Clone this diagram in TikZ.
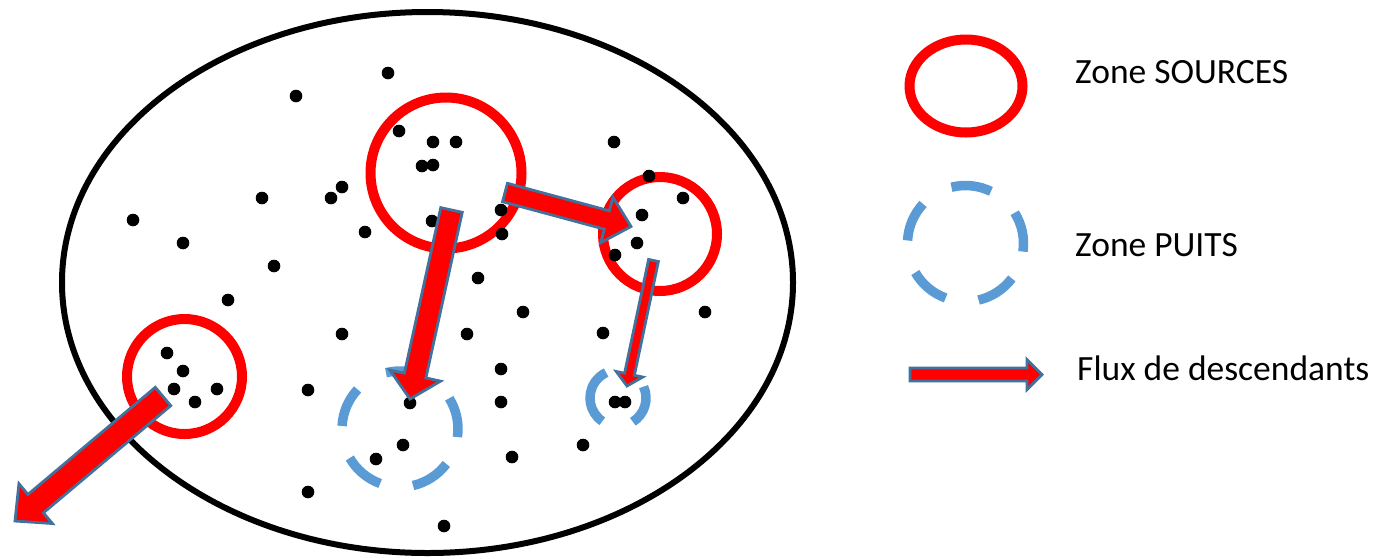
\documentclass[tikz,border=0pt]{standalone}
\usepackage{fontspec}
\setmainfont{Carlito}
\usetikzlibrary{calc}
\definecolor{zred}{HTML}{FF0000}
\definecolor{zblue}{HTML}{5B9BD5}
\definecolor{zout}{HTML}{41719C}
\tikzset{
  srczone/.style={draw=zred,line width=10pt},
  sinkzone/.style={draw=zblue,line width=9.5pt},
  flux/.style={fill=zred,draw=zout,line width=2.8pt,line join=miter},
  dot/.style={fill=black},
  legendtext/.style={anchor=base west,inner sep=0pt,font=\fontsize{35.5}{42}\selectfont}
}
\newcommand{\blockarrow}[5]{%
  \path ($(#2)!#5!(#1)$) coordinate (h);
  \draw[flux] ($(#1)!#3!90:(#2)$) -- ($(h)!#3!90:(#2)$) -- ($(h)!#4!90:(#2)$) -- (#2)
     -- ($(h)!#4!-90:(#2)$) -- ($(h)!#3!-90:(#2)$) -- ($(#1)!#3!-90:(#2)$) -- cycle;
}
\begin{document}
\begin{tikzpicture}[x=1pt,y=-1pt]
\useasboundingbox (0,0) rectangle (1380,558);
% population boundary
\coordinate (pop) at (427.5,282.5);
\draw[line width=6pt] (pop) ellipse [x radius=365.5, y radius=270.5];
% source zones
\coordinate (s1) at (446,173);
\coordinate (s2) at (660,234);
\coordinate (s3) at (184.5,376.5);
\draw[srczone] (s1) circle [radius=75.5];
\draw[srczone] (s2) circle [radius=57];
\draw[srczone] (s3) circle [radius=57.5];
% sink zones
\coordinate (p1) at (400,429);
\coordinate (p2) at (618,398);
\foreach \a in {-32,-104,-177,-250,-323}{
  \draw[sinkzone] (p1) ++(\a:58) arc [start angle=\a, end angle=\a+40, radius=58];
}
\draw[sinkzone] (p2) ++(-236:28) arc [start angle=-236, end angle=-115, radius=28];
\draw[sinkzone] (p2) ++(-24:28) arc [start angle=-24, end angle=58, radius=28];
% individuals
\foreach \x/\y [count=\i] in {388/73,296/96,399/131,433/142,456/142,422/166,433/165,614/142,
  342/187,331/198,262/198,133/220,432/221,365/232,501/210,502/234,183/243,274/266,478/278,
  228/300,523/312,342/334,467/334,603/333,705/312,308/390,501/369,501/402,410/403,403/445,
  376/459,512/457,583/445,308/492,444/526,167/353,183/371,174/389,195/402,217/389,649/176,
  683/198,642/215,637/243,615/255,615/402,625/402}{
  \node[dot,circle,inner sep=0pt,minimum size=12.6pt] (d\i) at (\x,\y) {};
}
% flux arrows
\coordinate (a1s) at (163,396.5);  \coordinate (a1e) at (15,521);
\coordinate (a2s) at (451.5,210);  \coordinate (a2e) at (410,399);
\coordinate (a3s) at (505,192.5);  \coordinate (a3e) at (631,226.5);
\coordinate (a4s) at (653.5,260.5); \coordinate (a4e) at (627,386);
\blockarrow{a1s}{a1e}{12pt}{26pt}{27pt}
\blockarrow{a2s}{a2e}{11pt}{26pt}{24pt}
\blockarrow{a3s}{a3e}{9.5pt}{23.5pt}{25pt}
\blockarrow{a4s}{a4e}{5pt}{13.5pt}{12pt}
% legend
\coordinate (ls) at (966,86);
\draw[srczone] (ls) ellipse [x radius=56.5, y radius=46.5];
\coordinate (lp) at (965.5,243.5);
\foreach \a in {-32,-104,-177,-250,-323}{
  \draw[sinkzone] (lp) ++(\a:58) arc [start angle=\a, end angle=\a+40, radius=58];
}
\coordinate (lfs) at (910,374.5); \coordinate (lfe) at (1042,374.5);
\blockarrow{lfs}{lfe}{6.5pt}{15pt}{15pt}
\node[legendtext] (t1) at (1075,83) {Zone SOURCES};
\node[legendtext] (t2) at (1075,256) {Zone PUITS};
\node[legendtext] (t3) at (1077,380) {Flux de descendants};
\end{tikzpicture}
\end{document}
